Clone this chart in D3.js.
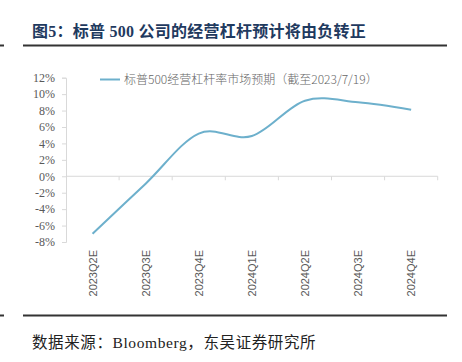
<!DOCTYPE html>
<html><head><meta charset="utf-8">
<script src="https://cdn.jsdelivr.net/npm/d3@7"></script>
<style>
html,body{margin:0;padding:0;background:#fff;}
svg{display:block;}
</style></head>
<body>
<svg id="c" width="462" height="362"></svg>
<script>
const categories = ["2023Q2E","2023Q3E","2023Q4E","2024Q1E","2024Q2E","2024Q3E","2024Q4E"];
const leverage = [-7.0, -0.9, 5.2, 4.9, 9.2, 9.0, 8.1];
const yTicks = [-8,-6,-4,-2,0,2,4,6,8,10,12];
const seriesName = "标普500经营杠杆率市场预期（截至2023/7/19）";
const titleText = "图5：标普 500 公司的经营杠杆预计将由负转正";
const sourceText = "数据来源：Bloomberg，东吴证券研究所";

const svg = d3.select("#c");
const mLeft = 66, mRight = 437.7, mTop = 77.7, mBottom = 242;

const x = d3.scaleBand().domain(categories).range([mLeft, mRight]).padding(0);
const y = d3.scaleLinear().domain([-8, 12]).range([mBottom, mTop]);

// title
svg.append("text").attr("x", 32).attr("y", 37)
  .attr("font-family", "'Liberation Serif','Noto Sans CJK SC',serif")
  .attr("font-weight", "bold").attr("font-size", 16).attr("letter-spacing", 0.25)
  .attr("fill", "#1f3a5f")
  .text(titleText);
// header lines
[45.5, 315.5].forEach(yy => {
  svg.append("line").attr("x1", 23).attr("x2", 447).attr("y1", yy).attr("y2", yy)
    .attr("stroke", "#333").attr("stroke-width", 2);
  svg.append("line").attr("x1", 0).attr("x2", 4).attr("y1", yy).attr("y2", yy)
    .attr("stroke", "#333").attr("stroke-width", 2);
});

// y axis
const yAxis = d3.axisLeft(y).tickValues(yTicks).tickSize(4).tickFormat(d => d + "%");
const gy = svg.append("g").attr("transform", `translate(${mLeft},0)`).call(yAxis);
gy.select(".domain").attr("stroke", "#d9d9d9");
gy.selectAll(".tick line").attr("stroke", "#d9d9d9");
gy.selectAll(".tick text").attr("x", -11)
  .attr("font-family", "'Liberation Serif',serif").attr("font-size", 12).attr("fill", "#595959");

// x axis at 0 line
const y0 = y(0);
svg.append("line").attr("x1", mLeft).attr("x2", mRight).attr("y1", y0).attr("y2", y0)
  .attr("stroke", "#d9d9d9").attr("stroke-width", 1);
const boundaries = categories.map(c => x(c) + x.bandwidth());
svg.selectAll(".xt").data(boundaries).enter().append("line")
  .attr("x1", d => d).attr("x2", d => d).attr("y1", y0).attr("y2", y0 + 4)
  .attr("stroke", "#d9d9d9");
svg.selectAll(".xl").data(categories).enter().append("text")
  .attr("transform", d => `translate(${x(d) + x.bandwidth()/2 + 4},250) rotate(-90)`)
  .attr("text-anchor", "end")
  .attr("font-family", "'Liberation Sans',sans-serif").attr("font-size", 11).attr("fill", "#595959")
  .text(d => d);

// line
const line = d3.line()
  .x((d, i) => x(categories[i]) + x.bandwidth()/2)
  .y(d => y(d))
  .curve(d3.curveCardinal.tension(0));
svg.append("path").datum(leverage).attr("d", line)
  .attr("fill", "none").attr("stroke", "#6db0cc").attr("stroke-width", 2);

// legend
svg.append("line").attr("x1", 100).attr("x2", 120).attr("y1", 79.5).attr("y2", 79.5)
  .attr("stroke", "#6db0cc").attr("stroke-width", 2);
svg.append("text").attr("x", 124).attr("y", 84)
  .attr("font-family", "'Noto Sans CJK SC',sans-serif").attr("font-weight", 300)
  .attr("font-size", 12).attr("fill", "#666")
  .text(seriesName);

// source
svg.append("text").attr("x", 32).attr("y", 348)
  .attr("font-family", "'Liberation Serif','Noto Sans CJK SC',serif")
  .attr("font-size", 15.5).attr("letter-spacing", 0.6).attr("fill", "#222")
  .text(sourceText);
</script>
</body></html>
